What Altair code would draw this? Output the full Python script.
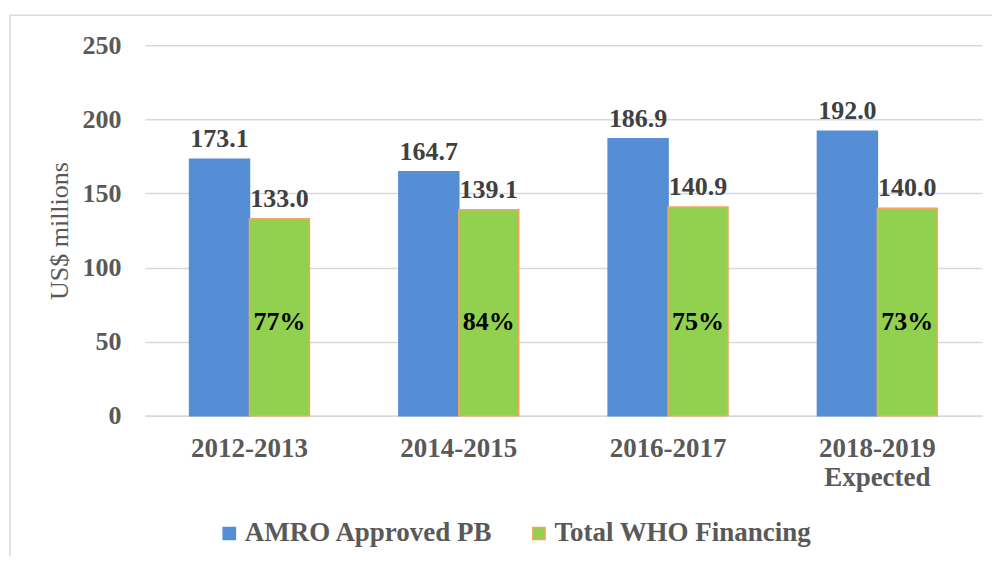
import altair as alt
import pandas as pd

periods = ["2012-2013", "2014-2015", "2016-2017", "2018-2019 Expected"]
amro = [173.1, 164.7, 186.9, 192.0]
who = [133.0, 139.1, 140.9, 140.0]
shares = ["77%", "84%", "75%", "73%"]
series = ["AMRO Approved PB", "Total WHO Financing"]
fills = ["#558ED5", "#92D050"]
strokes = ["#558ED5", "#F4A460"]

rows = []
for p, a, w in zip(periods, amro, who):
    rows.append({"period": p, "series": series[0], "value": a, "label": f"{a:.1f}"})
    rows.append({"period": p, "series": series[1], "value": w, "label": f"{w:.1f}"})
df = pd.DataFrame(rows)
pct_df = pd.DataFrame({"period": periods, "series": [series[1]] * len(periods), "pct": shares})

FONT = "'Liberation Serif', 'Times New Roman', Times, serif"
GRAY = "#595959"

x_enc = alt.X(
    "period:N", sort=periods,
    scale=alt.Scale(paddingInner=0.4272, paddingOuter=0.2136),
    axis=alt.Axis(title=None, labelAngle=0, ticks=False, domainColor="#D9D9D9", domainWidth=1.5,
                  labelFont=FONT, labelFontSize=27, labelFontWeight="bold", labelColor=GRAY,
                  labelPadding=20, labelExpr="split(datum.label, ' ')", labelLineHeight=29),
)
xo_enc = alt.XOffset("series:N", sort=series, scale=alt.Scale(domain=series, paddingInner=0, paddingOuter=0))

legend = alt.Legend(orient="none", legendX=71, legendY=475, direction="horizontal", title=None,
                    symbolType="square", symbolSize=150, symbolStrokeWidth=1.5,
                    labelFont=FONT, labelFontSize=27, labelFontWeight="bold", labelColor=GRAY,
                    labelLimit=400, labelOffset=2, columnPadding=32)

base = alt.Chart(df)

bars = base.mark_bar(strokeWidth=1.5).encode(
    x=x_enc,
    xOffset=xo_enc,
    y=alt.Y("value:Q", scale=alt.Scale(domain=[0, 250], nice=False),
            axis=alt.Axis(values=[0, 50, 100, 150, 200, 250], domain=False, ticks=False,
                          gridColor="#D9D9D9", gridWidth=1.5,
                          labelFont=FONT, labelFontSize=26, labelFontWeight="bold", labelColor=GRAY,
                          labelPadding=24,
                          title="US$ millions", titleFont=FONT, titleFontSize=26, titleFontWeight="normal",
                          titleColor=GRAY, titleAngle=270, titleX=-85, titleY=185.5,
                          titleAlign="center", titleBaseline="middle")),
    color=alt.Color("series:N", scale=alt.Scale(domain=series, range=fills), legend=legend),
    stroke=alt.Stroke("series:N", scale=alt.Scale(domain=series, range=strokes), legend=legend),
)

values = base.mark_text(baseline="alphabetic", dy=-12, font=FONT, fontSize=26, fontWeight="bold",
                        color="#404040").encode(
    x=alt.X("period:N", sort=periods),
    xOffset=alt.XOffset("series:N", sort=series),
    y="value:Q",
    text="label:N",
)

pcts = alt.Chart(pct_df).mark_text(baseline="alphabetic", font=FONT, fontSize=26, fontWeight="bold",
                                   color="#000000").encode(
    x=alt.X("period:N", sort=periods),
    xOffset=alt.XOffset("series:N", sort=series),
    y=alt.datum(58),
    text="pct:N",
)

border = alt.Chart(pd.DataFrame({"k": [0]})).mark_rect(fillOpacity=0, stroke="#D9D9D9", strokeWidth=1.5).encode(
    x=alt.value(-135), x2=alt.value(1100), y=alt.value(-30), y2=alt.value(700)
)

chart = alt.layer(border, bars, values, pcts).properties(
    width=838, height=371,
    autosize=alt.AutoSizeParams(type="none"),
    padding={"left": 137, "top": 37, "right": 10, "bottom": 140},
).configure(font=FONT).configure_view(stroke=None)

chart.save("out.html", embed_options={"renderer": "svg", "actions": False})
